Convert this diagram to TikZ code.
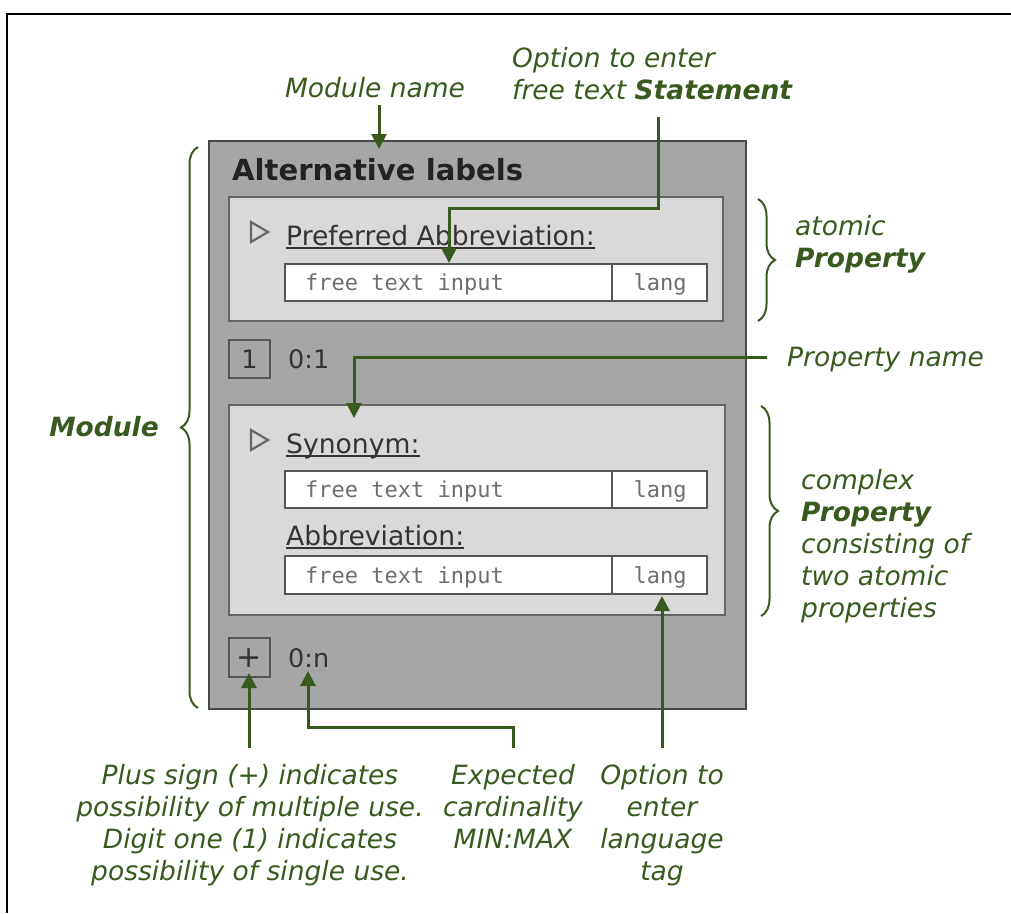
\documentclass[tikz,border=0pt]{standalone}
\usepackage{fontspec}
\setmainfont{DejaVu Sans}
\setmonofont{DejaVu Sans Mono}
\usetikzlibrary{arrows.meta,decorations.pathreplacing}
\definecolor{anngreen}{RGB}{56,90,30}
\definecolor{modfill}{RGB}{166,166,166}
\definecolor{modline}{RGB}{72,72,72}
\definecolor{propfill}{RGB}{217,217,217}
\definecolor{propline}{RGB}{102,102,102}
\definecolor{inpline}{RGB}{85,85,85}
\definecolor{labtext}{RGB}{51,51,51}
\definecolor{titletext}{RGB}{34,34,34}
\definecolor{inptext}{RGB}{110,110,110}
\begin{document}
\begin{tikzpicture}[x=1pt,y=-1pt,
  annot/.style={text=anngreen,font=\fontsize{26.5}{32}\selectfont\itshape,inner sep=0},
  annarrow/.style={draw=anngreen,line width=3,-{Triangle[length=15,width=15]}},
  bracestyle/.style={draw=anngreen,line width=2,decorate,decoration={brace,amplitude=17}},
  proplabel/.style={text=labtext,font=\fontsize{26.6}{32}\selectfont,inner sep=0,anchor=base west},
  inptxt/.style={text=inptext,font=\fontsize{22}{26}\selectfont\ttfamily,inner sep=0,anchor=base},
  cardtxt/.style={text=labtext,font=\fontsize{25.5}{30}\selectfont,inner sep=0,anchor=base west},
  inpbox/.style={draw=inpline,fill=white,line width=2.2},
  propbox/.style={draw=propline,fill=propfill,line width=2.4},
  modbox/.style={draw=modline,fill=modfill,line width=2.8},
  smallbox/.style={draw=inpline,fill=modfill,line width=2.2},
  tri/.style={draw=propline,line width=2.2},
  uline/.style={draw=labtext,line width=1.8}
]
\useasboundingbox (0,0) rectangle (1011,913);
\draw[black,line width=2.2] (1011,14) -- (7,14) -- (7,913);

% module box
\draw[modbox] (209,141) rectangle (746,709);
\node[text=titletext,font=\fontsize{29.1}{34}\selectfont\bfseries,inner sep=0,anchor=base west] (title) at (232,180) {Alternative labels};

% atomic property
\draw[propbox] (229,197) rectangle (723,321);
\draw[tri] (251,222) -- (268,232) -- (251,242) -- cycle;
\node[proplabel] (lpa) at (286,245) {Preferred Abbreviation:};
\draw[uline] ([yshift=-3pt]lpa.base west) -- ([yshift=-3pt]lpa.base east);
\draw[inpbox] (285,264) rectangle (707,301);
\draw[draw=inpline,line width=2.2] (612,264) -- (612,301);
\node[inptxt,anchor=base west] (fti1) at (305,290) {free text input};
\node[inptxt] (lang1) at (660,290) {lang};

\draw[smallbox] (229,340) rectangle (270,378);
\node[cardtxt,anchor=base] (one) at (249.5,368) {1};
\node[cardtxt] (card1) at (288,368) {0:1};

% complex property
\draw[propbox] (229,405) rectangle (725,615);
\draw[tri] (251,430) -- (268,440) -- (251,450) -- cycle;
\node[proplabel] (lsyn) at (286,453) {Synonym:};
\draw[uline] ([yshift=-3pt]lsyn.base west) -- ([yshift=-3pt]lsyn.base east);
\draw[inpbox] (285,471) rectangle (707,508);
\draw[draw=inpline,line width=2.2] (612,471) -- (612,508);
\node[inptxt,anchor=base west] (fti2) at (305,497) {free text input};
\node[inptxt] (lang2) at (660,497) {lang};
\node[proplabel] (labb) at (286,545) {Abbreviation:};
\draw[uline] ([yshift=-3pt]labb.base west) -- ([yshift=-3pt]labb.base east);
\draw[inpbox] (285,556) rectangle (707,594);
\draw[draw=inpline,line width=2.2] (612,556) -- (612,594);
\node[inptxt,anchor=base west] (fti3) at (305,583) {free text input};
\node[inptxt] (lang3) at (660,583) {lang};

\draw[smallbox] (229,638) rectangle (270,677);
\node[text=labtext,font=\fontsize{30}{34}\selectfont,inner sep=0] (plus) at (249.5,658) {+};
\node[cardtxt] (cardn) at (288,667) {0:n};

% braces
\draw[bracestyle] (198,708) -- (198,147);
\draw[bracestyle] (758,199) -- (758,321);
\draw[bracestyle] (761,406) -- (761,616);

% annotations
\node[annot,anchor=base] (modname) at (375,97) {Module name};
\node[annot,anchor=base west,align=left] (stmt) at (512,99) {Option to enter\\free text \textbf{Statement}};
\node[annot,anchor=base west,align=left] (atomic) at (795,267) {atomic\\\textbf{Property}};
\node[annot,anchor=base west] (pname) at (787,366) {Property name};
\node[annot,anchor=base west,align=left] (complex) at (801,617) {complex\\\textbf{Property}\\consisting of\\two atomic\\properties};
\node[annot,anchor=base east] (modlab) at (159,436) {\textbf{Module}};
\node[annot,anchor=base,align=center] (plusnote) at (250,880) {Plus sign (+) indicates\\possibility of multiple use.\\Digit one (1) indicates\\possibility of single use.};
\node[annot,anchor=base,align=center] (cardnote) at (513,848) {Expected\\cardinality\\MIN:MAX};
\node[annot,anchor=base,align=center] (langnote) at (662,880) {Option to\\enter\\language\\tag};

% arrows
\coordinate (mnS) at (379,105);
\coordinate (mnE) at (379,149);
\coordinate (stS) at (658,117);
\coordinate (stE) at (449,263);
\coordinate (pnS) at (767,357);
\coordinate (pnE) at (354,418);
\coordinate (plS) at (249,748);
\coordinate (plE) at (249,673);
\coordinate (cdS) at (513,748);
\coordinate (cdE) at (308,671);
\coordinate (lgS) at (662,748);
\coordinate (lgE) at (662,596);
\draw[annarrow] (mnS) -- (mnE);
\draw[annarrow] (stS) |- (stE |- 0,208) -- (stE);
\draw[annarrow] (pnS) -| (pnE);
\draw[annarrow] (plS) -- (plE);
\draw[annarrow] (cdS) |- (cdE |- 0,727) -- (cdE);
\draw[annarrow] (lgS) -- (lgE);
\end{tikzpicture}
\end{document}
